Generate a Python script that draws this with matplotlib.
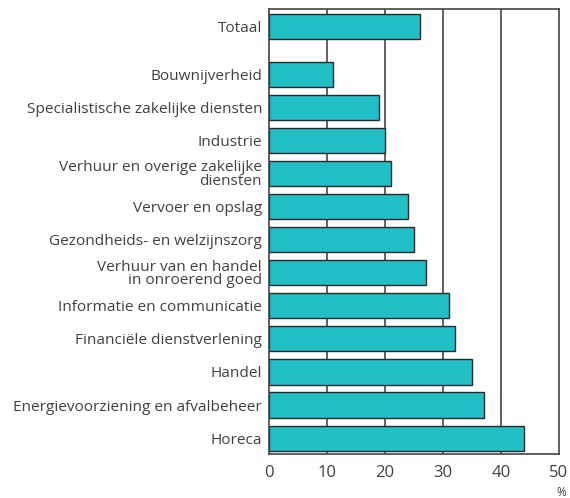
import numpy as np
import matplotlib.pyplot as plt

plt.rcParams['font.family'] = ['Open Sans', 'DejaVu Sans']

categories = [
    'Totaal',
    'Bouwnijverheid',
    'Specialistische zakelijke diensten',
    'Industrie',
    'Verhuur en overige zakelijke\ndiensten',
    'Vervoer en opslag',
    'Gezondheids- en welzijnszorg',
    'Verhuur van en handel\nin onroerend goed',
    'Informatie en communicatie',
    'Financiële dienstverlening',
    'Handel',
    'Energievoorziening en afvalbeheer',
    'Horeca',
]
values = [26, 11, 19, 20, 21, 24, 25, 27, 31, 32, 35, 37, 44]

# Totaal staat iets los van de rest
pos = np.array([0] + [1.45 + i for i in range(len(values) - 1)])

fig = plt.figure(figsize=(5.7, 4.98), dpi=100)
ax = fig.add_axes([269 / 570, 44 / 498, 290 / 570, 445 / 498])

for x in [10, 20, 30, 40]:
    ax.axvline(x, color='#555555', lw=1.3, zorder=0)

ax.barh(pos, values, height=0.76, color='#20bfc6', edgecolor='#2a2a2a',
        linewidth=1.0, zorder=2)

ax.set_xlim(0, 50)
ax.set_ylim(pos[-1] + 0.48, -0.52)
ax.set_yticks(pos)
ax.set_yticklabels(categories, fontsize=11.1, color='#404040', linespacing=0.85)
ax.set_xticks([0, 10, 20, 30, 40, 50])
ax.tick_params(axis='both', length=0, pad=5)
ax.tick_params(axis='x', labelsize=12, labelcolor='#404040', pad=8)
for s in ax.spines.values():
    s.set_color('#444444')
    s.set_linewidth(1.2)

fig.text(561 / 570, 1 - 492 / 498, '%', fontsize=8.5, color='#404040',
         ha='center', va='center')

fig.savefig('out.png', dpi=100)
